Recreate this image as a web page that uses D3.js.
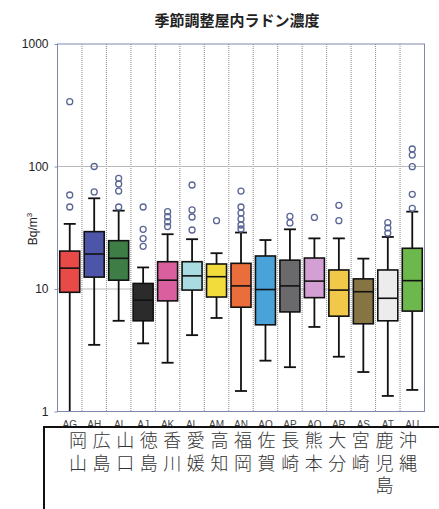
<!DOCTYPE html>
<html lang="ja">
<head>
<meta charset="UTF-8">
<title>季節調整屋内ラドン濃度</title>
<style>
  body { margin: 0; background: #fff; }
</style>
</head>
<body>
<div id="container"></div>
<script src="https://cdn.jsdelivr.net/npm/d3@7"></script>
<script>
    // data
    const codes = ['AG', 'AH', 'AI', 'AJ', 'AK', 'AL', 'AM', 'AN', 'AO', 'AP', 'AQ', 'AR', 'AS', 'AT', 'AU']
    const prefectures = ['岡山', '広島', '山口', '徳島', '香川', '愛媛', '高知', '福岡', '佐賀', '長崎', '熊本', '大分', '宮崎', '鹿児島', '沖縄']
    const whiskerLow = [1.0, 3.5, 5.5, 3.6, 2.5, 4.2, 5.8, 1.47, 2.6, 2.3, 4.9, 2.8, 2.1, 1.34, 1.5]
    const q1 = [9.4, 12.5, 11.8, 5.5, 8.0, 9.8, 8.6, 7.1, 5.1, 6.5, 8.5, 6.0, 5.2, 5.5, 6.6]
    const median = [14.8, 19.3, 17.8, 8.1, 11.8, 12.8, 12.6, 10.6, 9.9, 10.6, 11.6, 9.8, 9.5, 8.4, 11.7]
    const q3 = [20.4, 29.4, 24.8, 11.1, 16.7, 16.7, 16.0, 16.2, 18.6, 17.2, 17.9, 14.3, 12.1, 14.3, 21.5]
    const whiskerHigh = [34, 55, 43.6, 15.0, 28, 25.5, 19.6, 28.9, 25.1, 30.7, 25.9, 25.9, 17.7, 26.6, 42.8]
    const outliers = [
        [338, 58.5, 46.7],
        [100, 62],
        [80, 72, 63, 46.7],
        [46.7, 30.7, 25.8, 22.3],
        [42.8, 38.9, 35.4, 32.3],
        [70.6, 44.2, 38.7, 30.3],
        [36.1],
        [63, 46.7, 41.7, 37.3, 33.3, 30.9],
        [],
        [39.1, 34.6],
        [38.4],
        [48.2, 36.1],
        [],
        [34.8, 31.5, 28.6],
        [139, 124, 99.6, 59.3, 45.6]
    ]
    const yTicks = [1, 10, 100, 1000]

    const colors = ['#e84a48', '#4c55a8', '#3f7d47', '#2b2b2b', '#d95f9f', '#a8dce0', '#f2dc3c', '#ea6e3c',
        '#4aa3d8', '#6a6a6c', '#d4a0d4', '#f2c84a', '#867442', '#ececec', '#6cb84c']

    const width = 439
    const height = 509
    const plotLeft = 57.5
    const plotRight = 424.5
    const plotTop = 44
    const plotBottom = 411.5
    const boxWidth = 20
    const capWidth = 12
    const cjk = '"Noto Sans CJK JP", "Noto Sans", sans-serif'
    const latin = '"Liberation Sans", Arial, sans-serif'

    const svg = d3.select('#container').append('svg')
        .attr('width', width)
        .attr('height', height)

    const x = d3.scaleBand().domain(codes).range([plotLeft, plotRight]).paddingInner(0)
    const y = d3.scaleLog().domain([1, 1000]).range([plotBottom, plotTop])

    // title
    svg.append('text')
        .attr('x', 237)
        .attr('y', 26)
        .attr('text-anchor', 'middle')
        .attr('font-family', cjk)
        .attr('font-weight', 'bold')
        .attr('font-size', '15px')
        .attr('fill', '#222')
        .text('季節調整屋内ラドン濃度')

    // grid
    svg.append('g')
        .selectAll('line')
        .data(codes.slice(1))
        .enter()
        .append('line')
        .attr('x1', d => x(d))
        .attr('x2', d => x(d))
        .attr('y1', plotTop)
        .attr('y2', plotBottom)
        .attr('stroke', '#8a8a8a')
        .attr('stroke-dasharray', '1,1')

    svg.append('g')
        .selectAll('line')
        .data([10, 100])
        .enter()
        .append('line')
        .attr('x1', plotLeft)
        .attr('x2', plotRight)
        .attr('y1', d => y(d))
        .attr('y2', d => y(d))
        .attr('stroke', '#b8b8b8')

    // y axis
    const yAxis = svg.append('g')
        .attr('transform', `translate(${plotLeft},0)`)
        .call(d3.axisLeft(y).tickValues(yTicks).tickFormat(d3.format('d')).tickSize(3).tickPadding(6))
    yAxis.select('.domain').remove()
    yAxis.selectAll('.tick line').attr('stroke', '#8a90b0')
    yAxis.selectAll('text')
        .attr('font-family', latin)
        .attr('font-size', '12px')
        .attr('fill', '#222')

    const yTitle = svg.append('text')
        .attr('transform', 'translate(37,229) rotate(-90)')
        .attr('text-anchor', 'middle')
        .attr('font-family', latin)
        .attr('font-size', '12px')
        .attr('fill', '#222')
    yTitle.append('tspan').text('Bq/m')
    yTitle.append('tspan').attr('dy', -5).attr('font-size', '8px').text('3')

    // boxes
    const stats = codes.map((c, i) => ({
        code: c, lo: whiskerLow[i], q1: q1[i], med: median[i], q3: q3[i], hi: whiskerHigh[i],
        out: outliers[i], color: colors[i]
    }))
    const cx = d => x(d.code) + x.bandwidth() / 2

    const g = svg.append('g').attr('id', 'boxes')
    const box = g.selectAll('g')
        .data(stats)
        .enter()
        .append('g')

    box.append('line')
        .attr('x1', cx).attr('x2', cx)
        .attr('y1', d => y(d.lo)).attr('y2', d => y(d.hi))
        .attr('stroke', '#111').attr('stroke-width', 1.8)
    box.selectAll('.cap')
        .data(d => [d, d].map((s, k) => ({s: s, v: k ? s.hi : s.lo})).filter(c => c.v > 1))
        .enter()
        .append('line')
        .classed('cap', true)
        .attr('x1', d => cx(d.s) - capWidth / 2).attr('x2', d => cx(d.s) + capWidth / 2)
        .attr('y1', d => y(d.v)).attr('y2', d => y(d.v))
        .attr('stroke', '#111').attr('stroke-width', 1.8)
    box.append('rect')
        .attr('x', d => cx(d) - boxWidth / 2)
        .attr('y', d => y(d.q3))
        .attr('width', boxWidth)
        .attr('height', d => y(d.q1) - y(d.q3))
        .attr('fill', d => d.color)
        .attr('stroke', '#111')
        .attr('stroke-width', 1.6)
    box.append('line')
        .attr('x1', d => cx(d) - boxWidth / 2).attr('x2', d => cx(d) + boxWidth / 2)
        .attr('y1', d => y(d.med)).attr('y2', d => y(d.med))
        .attr('stroke', '#111').attr('stroke-width', 1.6)
    box.selectAll('circle')
        .data(d => d.out.map(v => ({s: d, v: v})))
        .enter()
        .append('circle')
        .attr('cx', d => cx(d.s))
        .attr('cy', d => y(d.v))
        .attr('r', 3)
        .attr('fill', 'none')
        .attr('stroke', '#5a6696')
        .attr('stroke-width', 1.3)

    // frame
    svg.append('rect')
        .attr('x', plotLeft).attr('y', plotTop)
        .attr('width', plotRight - plotLeft).attr('height', plotBottom - plotTop)
        .attr('fill', 'none')
        .attr('stroke', '#8088b0')

    // column codes, only their tops show above the table
    svg.append('clipPath').attr('id', 'code-clip')
        .append('rect').attr('x', 0).attr('y', 412).attr('width', width).attr('height', 15)
    svg.append('g')
        .attr('clip-path', 'url(#code-clip)')
        .selectAll('text')
        .data(codes)
        .enter()
        .append('text')
        .attr('x', d => x(d) + x.bandwidth() / 2)
        .attr('y', 428)
        .attr('text-anchor', 'middle')
        .attr('font-family', latin)
        .attr('font-size', '10px')
        .attr('fill', '#444')
        .text(d => d)

    // table of prefecture names
    svg.append('rect')
        .attr('x', 44).attr('y', 427)
        .attr('width', 430).attr('height', 110)
        .attr('fill', '#fff')
        .attr('stroke', '#111')
        .attr('stroke-width', 2)

    const xName = d3.scalePoint().domain(prefectures).range([78, 408])
    svg.append('g')
        .selectAll('g')
        .data(prefectures)
        .enter()
        .append('g')
        .selectAll('text')
        .data(p => Array.from(p).map((ch, j) => ({p: p, ch: ch, j: j})))
        .enter()
        .append('text')
        .attr('x', d => xName(d.p))
        .attr('y', d => 447 + d.j * 22.5)
        .attr('text-anchor', 'middle')
        .attr('font-family', cjk)
        .attr('font-weight', 300)
        .attr('font-size', '18px')
        .attr('fill', '#333')
        .text(d => d.ch)
</script>
</body>
</html>
